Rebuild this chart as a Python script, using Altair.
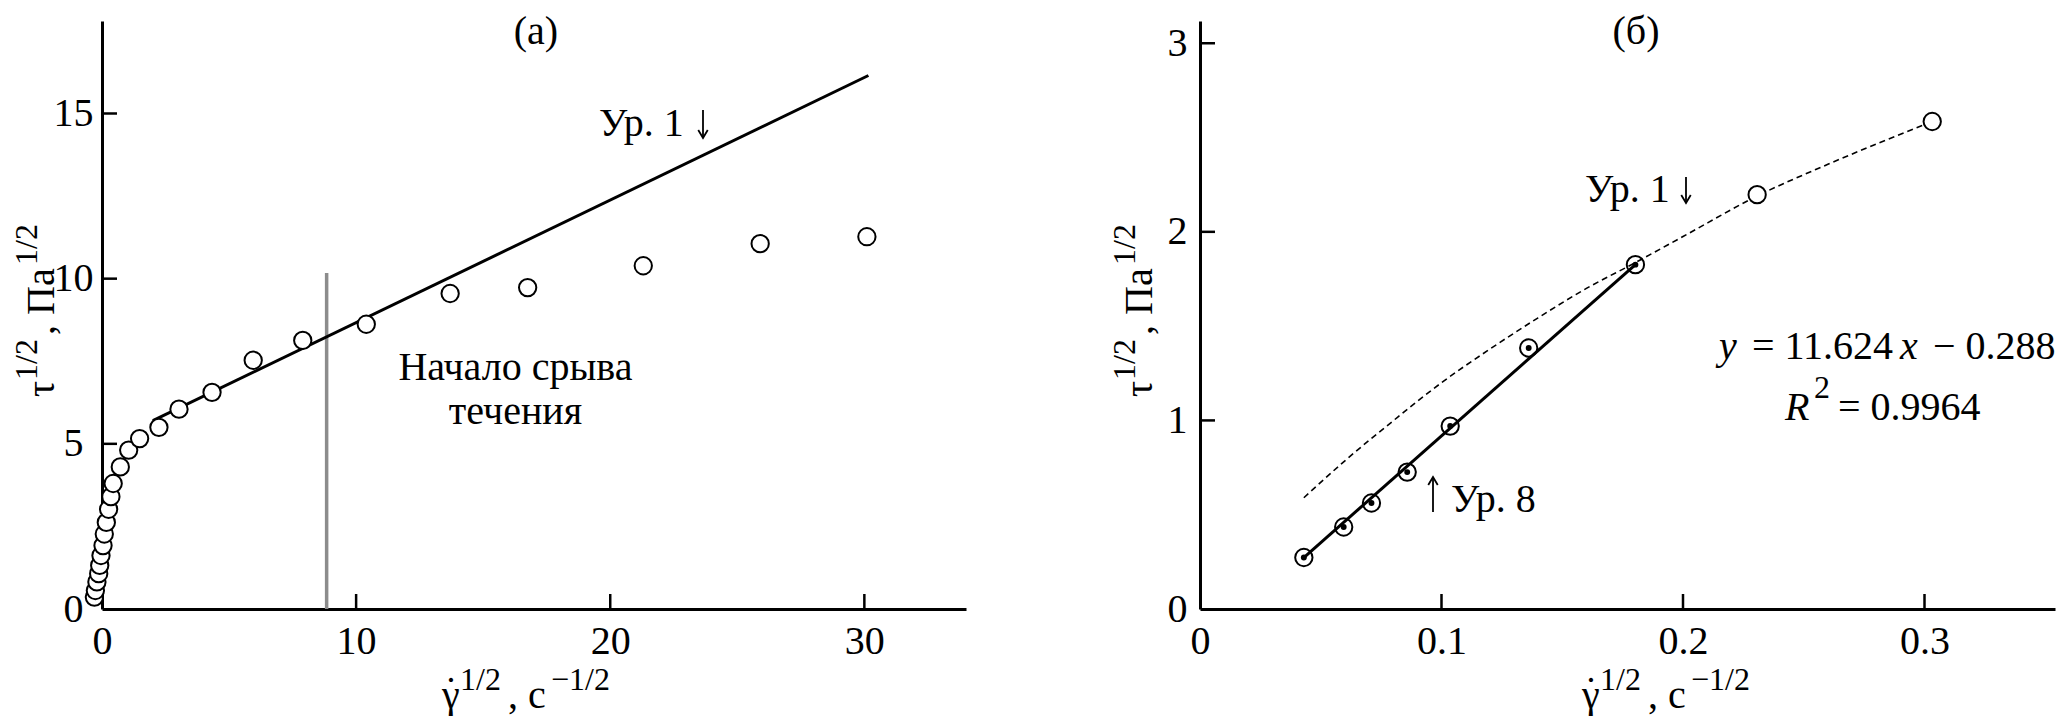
import altair as alt
import pandas as pd

FONT = "Liberation Serif, Times New Roman, Nimbus Roman, DejaVu Serif, serif"

# ---------------- panel (а): data ----------------
a_x = [-0.30, -0.26, -0.20, -0.13, -0.09, -0.04, 0.04, 0.09, 0.17, 0.26, 0.35, 0.44,
       0.72, 1.05, 1.48, 2.24, 3.03, 4.33, 5.95, 7.9, 10.4, 13.7, 16.75, 21.3, 25.9, 30.1]
a_y = [0.36, 0.56, 0.82, 1.07, 1.32, 1.62, 1.92, 2.27, 2.62, 3.02, 3.40, 3.80,
       4.30, 4.81, 5.16, 5.50, 6.05, 6.56, 7.53, 8.13, 8.62, 9.55, 9.73, 10.39, 11.06, 11.27]
a_eq1_x = [2.0, 30.16]
a_eq1_y = [5.70, 16.15]
a_onset_x = [8.84, 8.84]
a_onset_y = [0.0, 10.17]
a_xticks = [0, 10, 20, 30]
a_yticks = [0, 5, 10, 15]

# ---------------- panel (б): data ----------------
b_x = [0.043, 0.0595, 0.0710, 0.0858, 0.1036, 0.1361, 0.1803]
b_y = [0.273, 0.435, 0.562, 0.726, 0.970, 1.384, 1.826]
b_open_x = [0.2307, 0.3032]
b_open_y = [2.197, 2.585]
b_fit_x = [0.043, 0.1803]
b_fit_y = [0.273, 1.826]
b_eq1_x = [0.043, 0.06, 0.08, 0.10, 0.12, 0.14, 0.16, 0.18, 0.20, 0.2307, 0.26, 0.3032]
b_eq1_y = [0.59, 0.786, 0.998, 1.20, 1.378, 1.544, 1.70, 1.835, 1.975, 2.19, 2.358, 2.585]
b_xticks = [0, 0.1, 0.2, 0.3]
b_yticks = [0, 1, 2, 3]

# ---------------- layout ----------------
W1, W2, H = 864, 855, 588
PX_PER_UNIT_B = 2415.0
TICK = 15
FS = 40
SUP = 32
TFS = 40                             # panel label font
TITLE_BASE = 23
YT_MAIN, YT_SUP = -48, -65           # rotated y-title baselines (px from plot left)
XT_BASE, XT_SUP = 687, 669           # x-title baselines (px from plot top)

one = pd.DataFrame({"k": [0]})


def xaxis(values, pad, fmt):
    return alt.Axis(values=values, title=None, ticks=False, grid=False, domain=True,
                    domainColor="black", domainWidth=3, labelFont=FONT, labelFontSize=FS,
                    labelColor="black", labelPadding=pad, labelFlush=False,
                    labelOverlap=False, format=fmt)


def yaxis(values, pad):
    return alt.Axis(values=values, title=None, ticks=False, grid=False, domain=True,
                    domainColor="black", domainWidth=3, labelFont=FONT, labelFontSize=FS,
                    labelColor="black", labelPadding=pad, labelAlign="center",
                    labelBaseline="middle", labelFlush=False, labelOverlap=False)


def ptext(s, x, y, size=FS, italic=False, angle=0, align="left"):
    return alt.Chart(one).mark_text(
        text=s, font=FONT, fontSize=size, fontStyle="italic" if italic else "normal",
        align=align, baseline="alphabetic", color="black", angle=angle
    ).encode(x=alt.value(x), y=alt.value(y))


def arrow(x, y_top, y_bot, down=True):
    """thin annotation arrow (shaft + open head) in plot pixels"""
    tip = y_bot if down else y_top
    head = "M-1,-1.7L0,0L1,-1.7" if down else "M-1,1.7L0,0L1,1.7"
    return [
        alt.Chart(one).mark_rule(color="black", strokeWidth=1.8).encode(
            x=alt.value(x), y=alt.value(y_top), y2=alt.value(y_bot)),
        alt.Chart(one).mark_point(shape=head, filled=False, stroke="black", strokeWidth=1.8,
                                  size=90, opacity=1).encode(x=alt.value(x), y=alt.value(tip)),
    ]


def ytitle():
    return [
        ptext("τ", YT_MAIN, 376, angle=270),
        ptext("1/2", YT_SUP, 359, size=SUP, angle=270),
        ptext(", Па", YT_MAIN, 314, angle=270),
        ptext("1/2", YT_SUP, 244, size=SUP, angle=270),
    ]


def xtitle(x0):
    return [
        ptext("γ", x0, XT_BASE),
        ptext("˙", x0 + 9, XT_BASE - 4, align="center"),
        ptext("1/2", x0 + 18, XT_SUP, size=SUP),
        ptext(", с", x0 + 66, XT_BASE),
        ptext("−1/2", x0 + 109, XT_SUP, size=SUP),
    ]


def panel(xs, ys, ax, ay):
    X = lambda: alt.X("x:Q", scale=xs, axis=ax)
    Y = lambda: alt.Y("y:Q", scale=ys, axis=ay)

    def dtext(s, x, y, align="center"):
        return alt.Chart(pd.DataFrame({"x": [x], "y": [y]})).mark_text(
            text=s, font=FONT, fontSize=FS, align=align, baseline="alphabetic", color="black",
            lineBreak="\n", lineHeight=44
        ).encode(x=X(), y=Y())

    return X, Y, dtext


# ---------------- panel (а) ----------------
xa = alt.Scale(domain=[0, 34], nice=False, zero=False)
ya = alt.Scale(domain=[0, 17.8], nice=False, zero=False)
XA, YA, dta = panel(xa, ya, xaxis(a_xticks, 12, "d"), yaxis(a_yticks, 29))

a_layers = [
    alt.Chart(pd.DataFrame({"x": [v for v in a_xticks if v != 0]})).mark_rule(
        color="black", strokeWidth=2.5).encode(x=XA(), y=alt.value(H), y2=alt.value(H - TICK)),
    alt.Chart(pd.DataFrame({"y": [v for v in a_yticks if v != 0]})).mark_rule(
        color="black", strokeWidth=2.5).encode(y=YA(), x=alt.value(0), x2=alt.value(TICK)),
    alt.Chart(pd.DataFrame({"x": a_onset_x, "y": a_onset_y})).mark_line(
        color="#8c8c8c", strokeWidth=3.5).encode(x=XA(), y=YA()),
    alt.Chart(pd.DataFrame({"x": a_eq1_x, "y": a_eq1_y})).mark_line(
        color="black", strokeWidth=3).encode(x=XA(), y=YA()),
    alt.Chart(pd.DataFrame({"x": a_x, "y": a_y})).mark_point(
        shape="circle", filled=True, fill="white", stroke="black", strokeWidth=2,
        size=300, opacity=1).encode(x=XA(), y=YA()),
    ptext("Ур. 1", 497, 115),
    dta("Начало срыва\nтечения", 16.27, 6.94),
    ptext("(а)", 434, TITLE_BASE, size=TFS, align="center"),
] + arrow(601, 89, 117, down=True) + ytitle() + xtitle(340)
left = alt.layer(*a_layers).properties(width=W1, height=H)

# ---------------- panel (б) ----------------
xb = alt.Scale(domain=[0, W2 / PX_PER_UNIT_B], nice=False, zero=False)
yb = alt.Scale(domain=[0, 3.118], nice=False, zero=False)
XB, YB, dtb = panel(xb, yb, xaxis(b_xticks, 12, "~g"), yaxis(b_yticks, 23))

b_layers = [
    alt.Chart(pd.DataFrame({"x": [v for v in b_xticks if v != 0]})).mark_rule(
        color="black", strokeWidth=2.5).encode(x=XB(), y=alt.value(H), y2=alt.value(H - TICK)),
    alt.Chart(pd.DataFrame({"y": [v for v in b_yticks if v != 0]})).mark_rule(
        color="black", strokeWidth=2.5).encode(y=YB(), x=alt.value(0), x2=alt.value(TICK)),
    alt.Chart(pd.DataFrame({"x": b_eq1_x, "y": b_eq1_y})).mark_line(
        color="black", strokeWidth=1.6, strokeDash=[6, 4], interpolate="monotone").encode(x=XB(), y=YB()),
    alt.Chart(pd.DataFrame({"x": b_fit_x, "y": b_fit_y})).mark_line(
        color="black", strokeWidth=3).encode(x=XB(), y=YB()),
    alt.Chart(pd.DataFrame({"x": b_x, "y": b_y})).mark_point(
        shape="circle", filled=False, stroke="black", strokeWidth=2, size=300,
        opacity=1).encode(x=XB(), y=YB()),
    alt.Chart(pd.DataFrame({"x": b_x, "y": b_y})).mark_point(
        shape="circle", filled=True, color="black", size=35, opacity=1).encode(x=XB(), y=YB()),
    alt.Chart(pd.DataFrame({"x": b_open_x, "y": b_open_y})).mark_point(
        shape="circle", filled=True, fill="white", stroke="black", strokeWidth=2, size=300,
        opacity=1).encode(x=XB(), y=YB()),
    ptext("Ур. 1", 385, 181),
    ptext("Ур. 8", 251, 491),
    # equation and R^2
    ptext("y", 519, 338, italic=True),
    ptext("= 11.624", 552, 338),
    ptext("x", 700, 338, italic=True),
    ptext("− 0.288", 733, 338),
    ptext("R", 585, 399, italic=True),
    ptext("2", 614, 377, size=SUP),
    ptext("= 0.9964", 638, 399),
    ptext("(б)", 436, TITLE_BASE, size=TFS, align="center"),
] + arrow(486, 156, 182, down=True) + arrow(233, 456, 491, down=False) + ytitle() + xtitle(382)
right = alt.layer(*b_layers).properties(width=W2, height=H)

chart = alt.hconcat(left, right, spacing=143).properties(
    padding={"top": 4, "left": 3, "right": 0, "bottom": 0}
).configure_view(strokeWidth=0)

chart.save("out.html", embed_options={"renderer": "svg", "actions": False})
